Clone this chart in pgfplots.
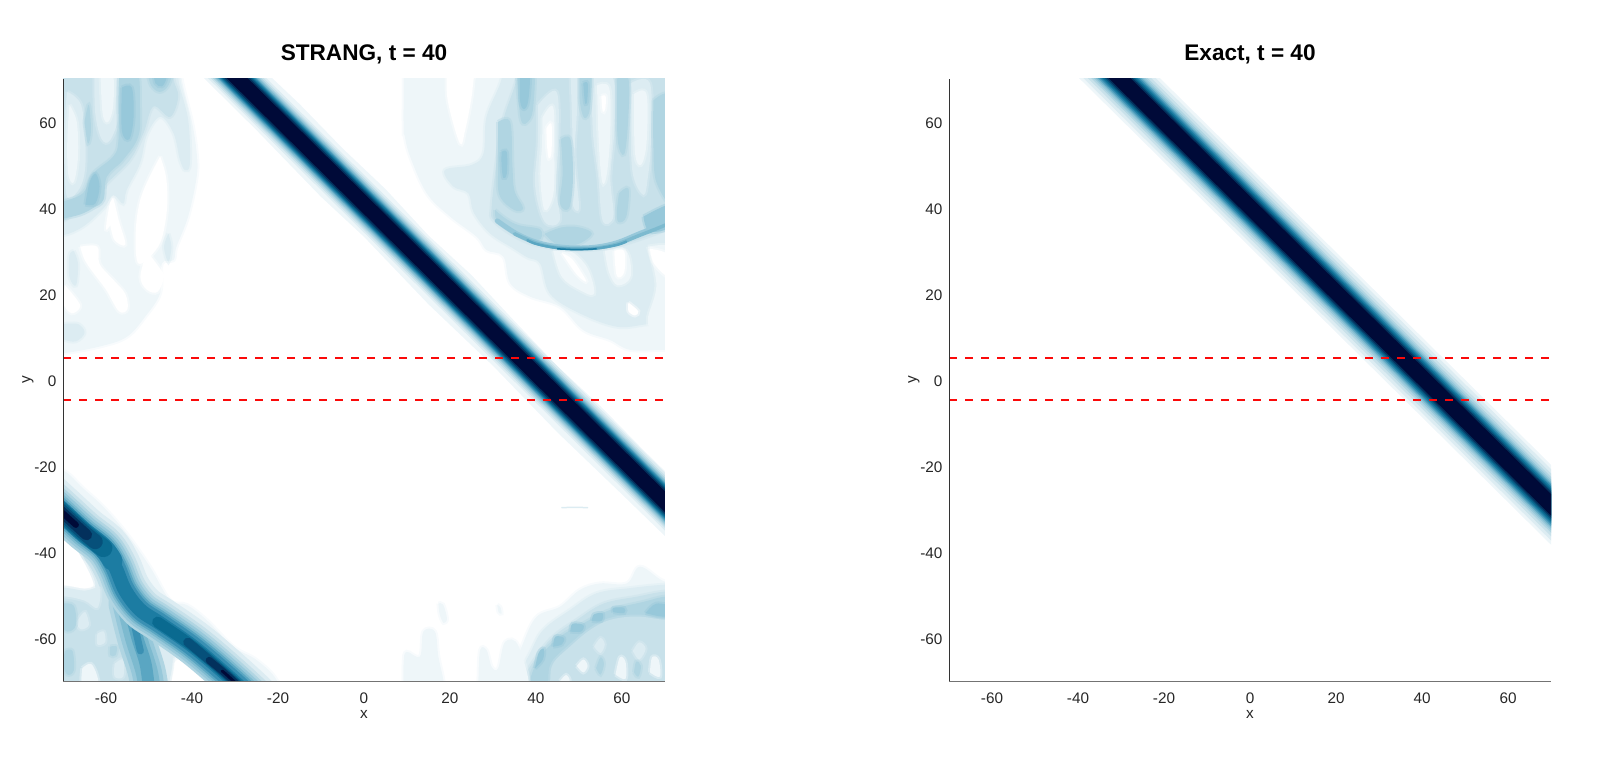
\documentclass[border=0pt]{standalone}
\usepackage{pgfplots}
\pgfplotsset{compat=1.18}
\usepackage{fontspec}
\setmainfont{Liberation Sans}
\definecolor{L1}{HTML}{EEF6F9}
\definecolor{L2}{HTML}{DCECF2}
\definecolor{L3}{HTML}{C8E1EA}
\definecolor{L4}{HTML}{B0D5E2}
\definecolor{L5}{HTML}{97C8DA}
\definecolor{L6}{HTML}{7DBACF}
\definecolor{L7}{HTML}{5AA6C2}
\definecolor{L8}{HTML}{3A90B3}
\definecolor{L9}{HTML}{1C7CA2}
\definecolor{L10}{HTML}{0A6A90}
\definecolor{L11}{HTML}{06507A}
\definecolor{L12}{HTML}{03305C}
\definecolor{L13}{HTML}{000A38}
\definecolor{tk}{gray}{0.15}
\pgfplotsset{
 A/.style={fill=#1,draw=#1,draw opacity=0.4,line width=4pt,smooth,tension=0.6,no markers,forget plot},
 B/.style={fill=#1,draw=none,no markers,forget plot},
 S/.style 2 args={draw=#1,line width=#2pt,line cap=round,smooth,tension=0.6,no markers,fill=none,forget plot},
 panel/.style={
  axis on top,
  scale only axis,width=602pt,height=602pt,
  xmin=-70,xmax=70,ymin=-70,ymax=70,
  axis x line*=bottom,axis y line*=left,
  x axis line style={-,draw=black!55,line width=0.8pt},
  y axis line style={-,draw=black!80,line width=0.9pt},
  xtick={-60,-40,-20,0,20,40,60},
  ytick={-60,-40,-20,0,20,40,60},
  xticklabels={-60,-40,-20,0,20,40,60},
  yticklabels={-60,-40,-20,0,20,40,60},
  major tick length=0pt,
  tick label style={font=\fontsize{15.3}{17}\selectfont,text=tk},
  xticklabel style={yshift=-8pt},
  yticklabel style={xshift=-3pt,yshift=-1pt},
  xlabel={x},ylabel={y},
  label style={font=\fontsize{15.3}{17}\selectfont,text=tk},
  xlabel style={at={(axis description cs:0.5,0)},anchor=north,yshift=-26pt},
  ylabel style={at={(axis description cs:0,0.5)},anchor=south,rotate=0,yshift=26pt},
  title style={font=\bfseries\fontsize{22.6}{25}\selectfont,at={(axis description cs:0.5,1)},anchor=south,yshift=5pt},
 },
 red/.style={draw={rgb,255:red,250;green,10;blue,10},line width=2pt,dash pattern=on 8pt off 8pt,no markers,forget plot},
}
\begin{document}
\begin{tikzpicture}[x=1pt,y=1pt]
\path[use as bounding box] (0,0) rectangle (1606,756);
\begin{axis}[panel,at={(63pt,75pt)},anchor=south west,title={STRANG, t = 40}]
% ---------- top-left blob
\addplot[A=L1] coordinates {(-42.4,75)(-42.4,70)(-40,60)(-38.9,52.7)(-38.9,47.3)(-40.9,38)(-43.6,31)(-44.3,27.9)(-47,27.1)(-47.4,20.2)(-50.9,14.7)(-55.2,10)(-61.4,7.8)(-70,6.2)(-76,6)(-76,75)(-42.4,75)};
\addplot[A=white] coordinates {(-47.4,52)(-46,47)(-45.8,40)(-47,33)(-49,29.5)(-52,27)(-53,29)(-53,36)(-52,42)(-50,47)(-47.4,52)};
\addplot[A=white] coordinates {(-59,36)(-60,35)(-59.5,39)(-58.5,42.5)(-57,37)(-55.5,31.5)(-58,32.5)(-59,36)};
\addplot[A=white] coordinates {(-66,31)(-62,31)(-61.5,27)(-58,23)(-55.5,20)(-55,16.5)(-57,16)(-60,21)(-63,25)(-65,28)(-66,31)};
\addplot[A=white] coordinates {(-50.5,30)(-47.5,26)(-46.5,24)(-48,20.5)(-50.5,21)(-52,24)(-50.5,30)};
\addplot[A=white] coordinates {(-69.5,22)(-67,19)(-66,17)(-68,15.5)(-70,18)(-69.5,22)};
\addplot[A=L2] coordinates {(-45.5,34)(-44.8,31)(-45.5,27.5)(-46.5,31)(-45.5,34)};
\addplot[A=L2] coordinates {(-67.5,30)(-66.5,27)(-67,22)(-68.5,24)(-68.5,29)(-67.5,30)};
\addplot[A=L2] coordinates {(-70,13)(-66.5,13)(-65,11)(-67,9)(-70,9.5)(-72,11)(-70,13)};
\addplot[A=L2] coordinates {(-76,33.5)(-70,33.7)(-65.3,35.7)(-60.6,39.9)(-58.3,43)(-56,41)(-55.2,44.2)(-52.1,50.4)(-50.5,57)(-47.4,61.2)(-44.3,57.4)(-42.8,51.2)(-41.6,48.8)(-40.5,50.4)(-40.9,60.5)(-43.2,70)(-43,76)(-76,76)(-76,33.5)};
\addplot[A=L3] coordinates {(-76,36)(-70,37)(-66,40.3)(-62,42.5)(-59.8,45.7)(-54.4,51.2)(-51.3,57.4)(-49,63.6)(-45.1,61.2)(-43.2,65.9)(-44.3,70)(-44.3,76)(-76,76)(-76,36)};
\addplot[A=L2] coordinates {(-69,67)(-65.8,64)(-64.8,55)(-65,48)(-66.5,44)(-69,42.5)(-69.7,50)(-69.7,60)(-69,67)};
\addplot[A=L2] coordinates {(-62.7,72)(-57.5,72)(-57,62)(-59,55.8)(-61,56)(-62.5,62)(-62.7,72)};
\addplot[A=L1] coordinates {(-68.5,64)(-66.8,60)(-66.5,52)(-67.5,46)(-68.8,48)(-69,56)(-68.5,64)};
\addplot[A=L1] coordinates {(-61.3,72)(-58.5,72)(-58.3,64)(-59.5,60)(-60.8,62)(-61.3,72)};
\addplot[A=L4] coordinates {(-73,36.5)(-70,37.5)(-66,38.5)(-63,40)(-60.6,41.9)(-59.8,47.3)(-56,51.2)(-52.5,56.6)(-52.1,63.6)(-52.7,72)(-56.4,72)(-57.1,65.9)(-57.1,55.8)(-58.3,52)(-63,48)(-65.3,43.5)(-70,41.5)(-73,41)(-73,36.5)};
\addplot[A=L4] coordinates {(-50.5,72)(-49.5,68.5)(-47.5,67)(-45.5,68.5)(-45,72)(-50.5,72)};
\addplot[A=L4] coordinates {(-65,60)(-64,64)(-63.5,58)(-64.2,55)(-65,60)};
\addplot[A=L5] coordinates {(-64.8,40.8)(-62.5,41)(-61.5,45)(-62.4,48)(-63.8,46)(-64.8,40.8)};
\addplot[A=L5] coordinates {(-56.3,68)(-54,68)(-53.6,61)(-54.6,56)(-56.3,58)(-56.3,68)};
\addplot[A=L5] coordinates {(-49,72)(-48.5,69)(-47,68.3)(-46,70)(-46,72)(-49,72)};
% ---------- top-right blob
\addplot[A=L1] coordinates {(9.2,76)(9.2,70)(9.2,58)(9.4,57)(10.7,52)(14.6,43.4)(20,38)(26.2,33.3)(28.5,30.2)(32.4,28.7)(34,22.5)(38.6,19.4)(45.6,17)(51,11.6)(57.2,9.3)(61.9,7)(70,7)(76,7)(76,76)(9.2,76)};
\addplot[A=white] coordinates {(19.2,74)(19.2,70)(19.6,64.3)(22.3,55)(23.5,58)(24.9,65)(25.5,70)(26,74)(19.2,74)};
\addplot[A=L2] coordinates {(32,76)(32,70)(28.5,61.2)(27.8,52.7)(25,50)(18.8,48.8)(20.8,45)(24.3,43.4)(25.5,39)(29.3,34.1)(34.7,30.6)(38,28.5)(41,27)(43.3,20)(50.2,15.5)(58.8,12.4)(66,13)(76,14)(76,76)(32,76)};
\addplot[A=L1] coordinates {(44,30)(48,30)(52,26)(53.5,20)(50,21)(46,24)(44,30)};
\addplot[A=white] coordinates {(46,29.5)(48.5,28)(51.7,23)(49.5,24.5)(46,29.5)};
\addplot[A=L1] coordinates {(56,30)(61,30)(62,24)(59,22)(57,25)(56,30)};
\addplot[A=white] coordinates {(58.2,30)(60.5,30)(60.5,25)(58.8,24.2)(58.2,30)};
\addplot[A=L1] coordinates {(66,31)(76,29)(76,8)(68,11)(66,14)(68,22)(66,31)};
\addplot[A=white] coordinates {(66.5,30.5)(71,29)(71,24)(67.5,27)(66.5,30.5)};
\addplot[A=white] coordinates {(61.5,18)(63.8,16)(63,15)(61.5,16)(61.5,18)};
\addplot[A=L3] coordinates {(35.5,76)(35.5,70)(32.4,60.5)(30.9,51.2)(29.7,40.3)(30.1,37.2)(34.7,33.7)(40.2,31.4)(49.5,30.2)(58.8,31.2)(70,34.9)(76,38)(76,76)(35.5,76)};
\addplot[A=L2] coordinates {(40.5,64)(44.8,67)(45.2,55)(44.6,45)(45.5,37)(42,36.8)(39.8,45)(40.4,55)(40.5,64)};
\addplot[A=L1] coordinates {(41.5,61)(44,63.5)(44.3,52)(44,43)(42,39.5)(41,47)(41.4,55)(41.5,61)};
\addplot[A=white] coordinates {(42.4,58.5)(43.6,59.5)(43.6,53)(43,51.5)(42.6,54)(42.4,58.5)};
\addplot[A=L2] coordinates {(48,72)(49.5,72)(49.5,62)(49,52)(50,40)(48.3,42)(48.5,55)(48,72)};
\addplot[A=L2] coordinates {(53,72)(58,70)(58.2,58)(57.3,47)(58,38)(55.5,37)(54.5,47)(53.2,58)(53,72)};
\addplot[A=L1] coordinates {(54.2,68.5)(57,68)(57.3,58)(56.5,48)(55.4,46)(54.6,55)(54.2,68.5)};
\addplot[A=white] coordinates {(55.2,66)(56.2,66)(56.1,63)(55.5,62.5)(55.2,66)};
\addplot[A=L2] coordinates {(62,69)(66.5,69)(66.7,55)(66,47)(65,43)(62.5,48)(62,60)(62,69)};
\addplot[A=L1] coordinates {(62.8,66.5)(65.7,66.5)(65.7,55)(64.4,50)(63,53)(62.8,66.5)};
\addplot[A=L4] coordinates {(35.5,72)(39.4,72)(39.4,64)(38.5,60.5)(36.5,60.5)(35.5,72)};
\addplot[A=L5] coordinates {(36.3,72)(38.5,72)(38.2,65)(37.2,63)(36.3,65)(36.3,72)};
\addplot[A=L4] coordinates {(31.2,60)(34,60)(34.5,50)(35,44)(37,40)(35,39.5)(31.5,43)(31.2,50)(31.2,60)};
\addplot[A=L5] coordinates {(32,53)(33.2,53)(33.2,48)(32.4,47)(32,50)(32,53)};
\addplot[A=L4] coordinates {(45.8,56)(48,56)(48.6,47)(47.7,40)(45.6,41)(46.2,48)(45.8,56)};
\addplot[A=L4] coordinates {(50.2,72)(52.8,72)(52.5,63)(51.2,61)(50.2,65)(50.2,72)};
\addplot[A=L5] coordinates {(51,69)(52,69)(51.9,65)(51.4,64.5)(51,69)};
\addplot[A=L4] coordinates {(58.8,70)(61.5,70)(61.4,60)(60.5,52.5)(59,56)(58.8,70)};
\addplot[A=L4] coordinates {(59.3,43.4)(61.5,44.5)(61,38)(59.2,36.7)(58.8,39)(59.3,43.4)};
\addplot[A=L4] coordinates {(67.3,65)(72,65)(72,42)(68,46)(67.3,55)(67.3,65)};
% arc
\addplot[A=L4] coordinates {(30.5,39.5)(33,37.5)(36,36)(41,35)(40.5,32.5)(35,34.5)(31,37)(30.5,39.5)};
\addplot[A=L4] coordinates {(42,34)(46,35.5)(50,35.5)(53,34)(49.5,31.5)(45,31.5)(42,34)};
\addplot[A=L5] coordinates {(65,38)(72,41)(72,36)(66.5,34.5)(65,38)};
\addplot[S={L5}{5}] coordinates {(31,37)(35.5,34)(40.2,32)(45,31)(49.5,30.7)(54,30.9)(58.8,31.9)(64,34)(70,36.4)(74,38.6)};
\addplot[S={L6}{3.5}] coordinates {(35,34)(40.2,31.8)(45,30.8)(49.5,30.6)(54,30.7)(58.8,31.6)(64,33.6)(70,36)(74,38)};
\addplot[S={L7}{2.5}] coordinates {(38,32.5)(40.2,31.6)(45,30.7)(49.5,30.5)(54,30.6)(58.8,31.4)(61,32.2)};
\addplot[S={L9}{1.5}] coordinates {(45,30.5)(47,30.4)(49.5,30.3)(52,30.4)(54,30.5)};
% ---------- bottom-right blob
\addplot[A=L1] coordinates {(34,-76)(34,-70)(37,-61.2)(40.2,-55)(45.6,-52.7)(50.2,-48.8)(54.9,-47.3)(61.1,-47.3)(64.2,-43.4)(70,-46.9)(76,-47)(76,-76)(34,-76)};
\addplot[A=L2] coordinates {(35.5,-76)(35.5,-70)(38.6,-63.6)(41.7,-58.1)(47.9,-53.5)(54.1,-49.6)(61.9,-48.4)(70,-47.6)(76,-47.6)(76,-76)(35.5,-76)};
\addplot[A=L3] coordinates {(37,-76)(37,-70)(40.2,-64.3)(44,-59.7)(49.5,-55.8)(55.7,-52)(63.4,-50.4)(70,-49.2)(76,-49.2)(76,-76)(37,-76)};
\addplot[A=L4] coordinates {(38.6,-76)(38.6,-70)(41,-64.3)(45.6,-59.7)(51,-56.6)(57.2,-53.5)(65,-51.6)(70,-50.4)(76,-50.4)(76,-76)(38.6,-76)};
\addplot[A=L3] coordinates {(43.3,-76)(43.3,-70)(44,-65.9)(47.9,-62)(52.6,-58.1)(57.2,-55.8)(63.4,-55)(70,-55.8)(76,-56)(76,-76)(43.3,-76)};
\addplot[A=L5] coordinates {(39.8,-67)(41.6,-65)(41.8,-62.5)(40.6,-63.5)(39.8,-67)};
\addplot[A=L5] coordinates {(44,-62)(46,-61.5)(46.5,-60)(44.5,-59.7)(44,-62)};
\addplot[A=L5] coordinates {(48,-58.5)(50.5,-58.5)(51,-57)(48.5,-56.7)(48,-58.5)};
\addplot[A=L5] coordinates {(53,-56)(55.2,-56)(55.5,-54.3)(53.5,-54.5)(53,-56)};
\addplot[A=L5] coordinates {(58,-54)(60.5,-54.2)(60.5,-53)(58,-53)(58,-54)};
\addplot[A=L5] coordinates {(65.5,-54.2)(70,-55)(72,-53)(68,-52)(65.5,-54.2)};
\addplot[A=L1] coordinates {(45.6,-70)(47,-68.6)(47.8,-70)(45.6,-70)};
\addplot[A=L1] coordinates {(49.5,-66.5)(51,-65)(52,-66.5)(51,-68)(49.5,-66.5)};
\addplot[A=L1] coordinates {(58.5,-68.5)(59.5,-64.5)(60.8,-65.5)(60.8,-69.5)(58.5,-68.5)};
\addplot[A=L2] coordinates {(53.5,-62)(55,-60)(56,-61.5)(55,-63.5)(53.5,-62)};
\addplot[A=L2] coordinates {(62.5,-63)(64,-61)(65.5,-62.5)(64,-65)(62.5,-63)};
\addplot[A=L1] coordinates {(66.5,-68)(67,-64.5)(68.5,-65)(68.8,-69)(66.5,-68)};
\addplot[A=L4] coordinates {(54,-67)(55,-64.5)(55.8,-66)(55,-68.5)(54,-67)};
\addplot[A=L4] coordinates {(62.8,-68)(63.3,-65.5)(64.4,-66.5)(63.8,-69)(62.8,-68)};
% small patches
\addplot[A=L1] coordinates {(9.2,-74)(9.2,-65.9)(9.9,-63.2)(13,-64.3)(13.8,-58.5)(16.5,-58.5)(17.3,-64.3)(18.5,-70)(18.7,-74)(9.2,-74)};
\addplot[A=L1] coordinates {(26.6,-74)(26.6,-70)(27,-62.8)(28.5,-62.8)(29.7,-66.7)(31.2,-67)(32.8,-60.9)(36,-62)(38,-74)(26.6,-74)};
\addplot[A=L1] coordinates {(17.3,-52)(18.4,-52.2)(19.3,-55.5)(18.5,-56.5)(17.6,-54.5)(17.3,-52)};
\addplot[A=L1] coordinates {(31,-52.3)(31.7,-52.8)(32,-54.3)(31.3,-54)(31,-52.3)};
\addplot[S={L2}{1.5}] coordinates {(46,-29.7)(49,-29.6)(52,-29.7)};
% ---------- bottom-left
\addplot[A=L1] coordinates {(-76,-20)(-70,-21)(-65.3,-25.2)(-60.6,-29.5)(-55.2,-35.7)(-49.8,-43.4)(-45.1,-51.2)(-41.2,-52.3)(-36.6,-55.8)(-30.4,-62)(-25,-65.1)(-20.3,-69.8)(-19,-76)(-76,-76)(-76,-20)};
\addplot[S={L2}{52}] coordinates {(-76,-25.5)(-70,-31)(-65.3,-35.3)(-60.6,-39.1)(-57.9,-43.4)(-55.5,-49)(-52,-53.5)(-47.4,-56.6)(-39.7,-62)(-31.9,-68.6)(-26,-74)};
\addplot[S={L3}{44}] coordinates {(-76,-25.5)(-70,-31)(-65.3,-35.3)(-60.6,-39.1)(-57.9,-43.4)(-55.5,-49)(-52,-53.5)(-47.4,-56.6)(-39.7,-62)(-31.9,-68.6)(-26,-74)};
\addplot[A=white] coordinates {(-76,-35.5)(-70,-35)(-66.8,-39.5)(-63.8,-45)(-63,-48)(-65,-48.5)(-70,-47.7)(-76,-48)(-76,-35.5)};
\addplot[A=L3] coordinates {(-76,-49.5)(-70,-49.2)(-65,-50)(-61,-49)(-57,-53)(-50,-60)(-45,-64)(-44.5,-76)(-76,-76)(-76,-49.5)};
\addplot[A=L2] coordinates {(-76,-48.5)(-70,-48.3)(-65,-49)(-61.5,-48.5)(-62,-53)(-65,-51.3)(-70,-50.3)(-76,-50.5)(-76,-48.5)};
\addplot[A=L2] coordinates {(-45.5,-62)(-41,-64)(-38,-67)(-34.5,-70)(-34,-76)(-46.5,-76)(-45.5,-62)};
\addplot[A=L1] coordinates {(-45,-65)(-42,-64.2)(-38,-67)(-34.5,-70)(-34,-76)(-45,-76)(-45,-65)};
\addplot[A=white] coordinates {(-44.3,-66)(-42,-65)(-35.5,-70)(-35,-75)(-44,-75)(-44.3,-66)};
\addplot[A=L2] coordinates {(-66,-55)(-64.8,-54)(-64,-57)(-65.8,-58)(-66.8,-56.5)(-66,-55)};
\addplot[A=L2] coordinates {(-62,-59)(-60.5,-58.5)(-60.2,-61)(-62,-61.5)(-62,-59)};
\addplot[A=L1] coordinates {(-65.5,-67)(-63.5,-66)(-62,-69)(-62,-72)(-65.5,-72)(-65.5,-67)};
\addplot[A=L2] coordinates {(-58,-66)(-56,-65)(-56,-69)(-58,-69)(-58,-66)};
\addplot[A=L2] coordinates {(-50,-58)(-46,-60)(-44.5,-65)(-46,-72)(-48.5,-72)(-48,-65)(-50,-58)};
\addplot[A=L4] coordinates {(-70,-52)(-67.5,-52.5)(-67,-57)(-69,-58.5)(-71,-56)(-70,-52)};
\addplot[A=L4] coordinates {(-69.5,-63)(-67.8,-63)(-67.5,-67.5)(-69,-68.5)(-70,-66)(-69.5,-63)};
\addplot[A=L4] coordinates {(-59,-62)(-57.5,-62)(-57.8,-64)(-59,-64)(-59,-62)};
\addplot[S={L4}{38}] coordinates {(-55,-52)(-53,-60)(-50.5,-68)(-49.5,-75)};
\addplot[S={L5}{30}] coordinates {(-55,-52)(-53,-60)(-50.5,-68)(-49.5,-75)};
\addplot[S={L6}{22}] coordinates {(-55,-52)(-53,-60)(-50.5,-68)(-49.5,-75)};
\addplot[S={L7}{12}] coordinates {(-54.5,-53)(-52.7,-60)(-50.8,-66)(-50,-72)};
\addplot[S={L8}{7}] coordinates {(-54,-54)(-52.7,-60)(-52,-63)};
\addplot[S={L4}{38}] coordinates {(-76,-25.5)(-70,-31)(-65.3,-35.3)(-60.6,-39.1)(-57.9,-43.4)(-55.5,-49)(-52,-53.5)(-47.4,-56.6)(-39.7,-62)(-31.9,-68.6)(-26,-74)};
\addplot[S={L5}{33}] coordinates {(-76,-25.5)(-70,-31)(-65.3,-35.3)(-60.6,-39.1)(-57.9,-43.4)(-55.5,-49)(-52,-53.5)(-47.4,-56.6)(-39.7,-62)(-31.9,-68.6)(-26,-74)};
\addplot[S={L6}{28}] coordinates {(-76,-25.5)(-70,-31)(-65.3,-35.3)(-60.6,-39.1)(-57.9,-43.4)(-55.5,-49)(-52,-53.5)(-47.4,-56.6)(-39.7,-62)(-31.9,-68.6)(-26,-74)};
\addplot[S={L7}{24}] coordinates {(-76,-25.5)(-70,-31)(-65.3,-35.3)(-60.6,-39.1)(-57.9,-43.4)(-55.5,-49)(-52,-53.5)(-47.4,-56.6)(-39.7,-62)(-31.9,-68.6)(-26,-74)};
\addplot[S={L8}{20}] coordinates {(-76,-25.5)(-70,-31)(-65.3,-35.3)(-60.6,-39.1)(-57.9,-43.4)(-55.5,-49)(-52,-53.5)(-47.4,-56.6)(-39.7,-62)(-31.9,-68.6)(-26,-74)};
\addplot[S={L9}{14}] coordinates {(-76,-25.5)(-70,-31)(-65.3,-35.3)(-60.6,-39.1)(-57.9,-43.4)(-55.5,-49)(-52,-53.5)(-47.4,-56.6)(-39.7,-62)(-31.9,-68.6)(-26,-74)};
\addplot[S={L9}{20}] coordinates {(-76,-25.5)(-70,-31)(-65.3,-35.3)(-60.6,-39.1)(-58.5,-42)};
\addplot[S={L10}{18}] coordinates {(-76,-25.5)(-70,-31)(-65.3,-35.3)(-60.6,-39.1)};
\addplot[S={L11}{15}] coordinates {(-76,-25.5)(-70,-31)(-65.3,-35.3)(-62.5,-37.6)};
\addplot[S={L12}{11}] coordinates {(-76,-25.5)(-70,-31)(-65.3,-35.3)(-64.5,-36)};
\addplot[S={L13}{6}] coordinates {(-76,-25.5)(-70,-31)(-67,-33.7)};
\addplot[S={L10}{11}] coordinates {(-48,-56.3)(-39.7,-62)(-31.9,-68.6)(-26,-74)};
\addplot[S={L11}{9}] coordinates {(-41,-61)(-39.7,-62)(-31.9,-68.6)(-26,-74)};
\addplot[S={L12}{7}] coordinates {(-36,-65.2)(-31.9,-68.6)(-26,-74)};
\addplot[S={L13}{3}] coordinates {(-33,-67.7)(-31.9,-68.6)(-26,-74)};
% ---------- main band
\addplot[B=L1] coordinates {(-80,128.4)(-30,78.4)(-15,64.2)(-5,53.9)(5,44.4)(15,33.6)(25,24.4)(35,13.7)(45,3.2)(55,-6.1)(65,-16.3)(80,-31)(80,-46)(60,-26.6)(45,-12.2)(30,3.3)(15,17.6)(0,33.3)(-10,42.6)(-25,58.1)(-80,112.6)} --cycle;
\addplot[B=L2] coordinates {(-80,126.9)(80,-31.5)(80,-44.9)(-80,113.5)} --cycle;
\addplot[B=L3] coordinates {(-80,126.3)(80,-32.1)(80,-44.3)(-80,114.1)} --cycle;
\addplot[B=L4] coordinates {(-80,125.8)(80,-32.6)(80,-43.8)(-80,114.6)} --cycle;
\addplot[B=L5] coordinates {(-80,125.4)(80,-33)(80,-43.4)(-80,115)} --cycle;
\addplot[B=L6] coordinates {(-80,125.05)(80,-33.35)(80,-43.05)(-80,115.35)} --cycle;
\addplot[B=L7] coordinates {(-80,124.7)(80,-33.7)(80,-42.7)(-80,115.7)} --cycle;
\addplot[B=L8] coordinates {(-80,124.4)(80,-34)(80,-42.4)(-80,116)} --cycle;
\addplot[B=L9] coordinates {(-80,124.1)(80,-34.3)(80,-42.1)(-80,116.3)} --cycle;
\addplot[B=L10] coordinates {(-80,123.8)(80,-34.6)(80,-41.8)(-80,116.6)} --cycle;
\addplot[B=L11] coordinates {(-80,123.5)(80,-34.9)(80,-41.5)(-80,116.9)} --cycle;
\addplot[B=L12] coordinates {(-80,123.1)(80,-35.3)(80,-41.1)(-80,117.3)} --cycle;
\addplot[B=L13] coordinates {(-80,122.6)(80,-35.8)(80,-40.6)(-80,117.8)} --cycle;
\addplot[red] coordinates {(-70,5.1)(70,5.1)};
\addplot[red] coordinates {(-70,-4.75)(70,-4.75)};
\end{axis}
\begin{axis}[panel,at={(949pt,75pt)},anchor=south west,title={Exact, t = 40}]
\addplot[B=L1] coordinates {(-80,128.6)(80,-29.6)(80,-48.2)(-80,110)} --cycle;
\addplot[B=L2] coordinates {(-80,127.6)(80,-30.6)(80,-47.2)(-80,111)} --cycle;
\addplot[B=L3] coordinates {(-80,126.6)(80,-31.6)(80,-46.2)(-80,112)} --cycle;
\addplot[B=L4] coordinates {(-80,125.8)(80,-32.4)(80,-45.4)(-80,112.8)} --cycle;
\addplot[B=L5] coordinates {(-80,125.2)(80,-33)(80,-44.8)(-80,113.4)} --cycle;
\addplot[B=L6] coordinates {(-80,124.7)(80,-33.5)(80,-44.3)(-80,113.9)} --cycle;
\addplot[B=L7] coordinates {(-80,124.3)(80,-33.9)(80,-43.9)(-80,114.3)} --cycle;
\addplot[B=L8] coordinates {(-80,123.9)(80,-34.3)(80,-43.5)(-80,114.7)} --cycle;
\addplot[B=L9] coordinates {(-80,123.5)(80,-34.7)(80,-43.1)(-80,115.1)} --cycle;
\addplot[B=L10] coordinates {(-80,123.1)(80,-35.1)(80,-42.7)(-80,115.5)} --cycle;
\addplot[B=L11] coordinates {(-80,122.7)(80,-35.5)(80,-42.3)(-80,115.9)} --cycle;
\addplot[B=L12] coordinates {(-80,122.3)(80,-35.9)(80,-41.9)(-80,116.3)} --cycle;
\addplot[B=L13] coordinates {(-80,121.8)(80,-36.4)(80,-41.4)(-80,116.8)} --cycle;
\addplot[red] coordinates {(-70,5.1)(70,5.1)};
\addplot[red] coordinates {(-70,-4.75)(70,-4.75)};
\end{axis}
\end{tikzpicture}
\end{document}
